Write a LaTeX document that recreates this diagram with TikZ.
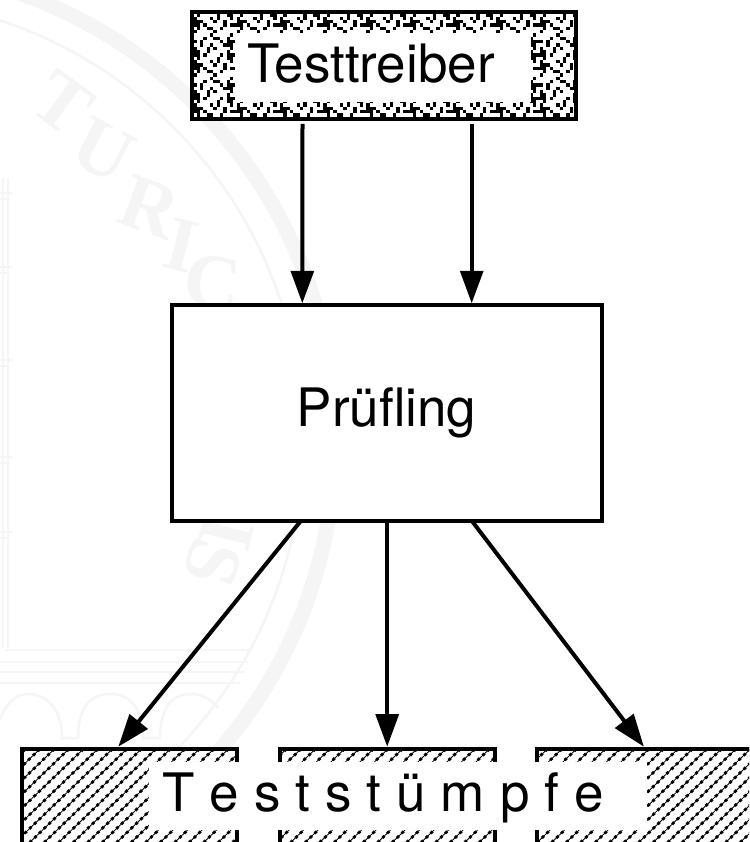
\documentclass[tikz,border=0pt]{standalone}
\usepackage{fontspec}
\setmainfont{TeX Gyre Heros}
\newfontfamily\sealfont{Liberation Serif}
\usetikzlibrary{arrows.meta,calc}
\definecolor{seal}{HTML}{F5F5F5}
\tikzset{
  frame/.style={draw=black,line width=4pt,fill=white,rectangle,inner sep=0pt,outer sep=0pt},
  label/.style={font=\fontsize{53}{60}\selectfont,inner sep=0pt,anchor=base},
  flow/.style={line width=4pt,-{Triangle[length=32.5pt,width=22.7pt]}},
  sealline/.style={draw=seal,line width=2.5pt},
  sealletter/.style={text=seal,font=\sealfont\bfseries\fontsize{78}{86}\selectfont,inner sep=0pt},
  hatch/.style={line width=2.8pt,dash pattern=on 3pt off 3.6pt},
  hatchthin/.style={line width=0.8pt}
}
\begin{document}
\begin{tikzpicture}[x=1pt,y=-1pt]
\useasboundingbox (0,0) rectangle (749,842);
\clip (0,0) rectangle (749,842);
\fill[white] (0,0) rectangle (749,842);
% faint seal in the background
\coordinate (sealc) at (-139,440);
\draw[seal,line width=15pt] (sealc) circle[radius=474pt];
\draw[sealline] (sealc) circle[radius=442pt];
\foreach \px/\py/\ch/\rot in {63/103/T/-36,103/150/U/-28,150/207/R/-20,181/245/I/-14,213/283/C/-7,227/533/I/-104,213/563/S/-108}{
  \node[sealletter,rotate=\rot] at (\px,\py) {\ch};
}
\draw[sealline] (3,178) -- (3,648) (8,178) -- (8,648);
\foreach \py in {193,267,360,457,532}{
  \draw[sealline] (0,\py) -- (12,\py) (0,\py+6) -- (9,\py+6);
}
\draw[sealline] (6,650) -- (252,650);
\draw[sealline] (0,662) -- (248,662);
\draw[sealline] (0,672) -- (245,672);
\draw[sealline] (0,683) -- (240,683);
\draw[sealline] (0,720) .. controls (6,703) and (16,694) .. (28,694)
  .. controls (46,694) and (62,708) .. (62,738) -- (78,738)
  .. controls (78,708) and (90,694) .. (110,694)
  .. controls (130,694) and (143,708) .. (143,738) -- (160,738)
  .. controls (160,708) and (172,694) .. (190,694)
  .. controls (203,694) and (212,700) .. (218,708);
% Testtreiber box
\node[frame,minimum width=383.5pt,minimum height=107.5pt] (drv) at (383.75,65.75) {};
\begin{scope}
  \clip (drv.north west) rectangle (drv.south east);
  \foreach \i in {0,...,115}{
    \foreach \j in {0,...,33}{
      \ifnum\numexpr(\i*\i+3*\i*\j+5*\j*\j)-13*(((\i*\i+3*\i*\j+5*\j*\j)-6)/13)\relax<5
        \fill[black] (190+3.33*\i,10+3.33*\j) rectangle ++(3.33,3.33);
      \fi
    }
  }
\end{scope}
\draw[black,line width=4pt] (drv.north west) rectangle (drv.south east);
\node[fill=white,inner sep=0pt,outer sep=0pt,minimum width=295.7pt,minimum height=69pt] (drvinner) at (383,67.5) {};
\node[label] (drvtext) at (371,82.7) {Testtreiber};
% Prüfling box
\node[frame,minimum width=430.3pt,minimum height=215.4pt] (dut) at (387.15,413) {};
\node[label] (duttext) at (386.5,426.7) {Prüfling};
% Teststümpfe boxes
\node[frame,minimum width=214.7pt,minimum height=120pt] (stuba) at (129.35,808.7) {};
\node[frame,minimum width=215pt,minimum height=120pt] (stubb) at (387.2,808.7) {};
\node[frame,minimum width=240pt,minimum height=120pt] (stubc) at (657,808.7) {};
\foreach \s in {stuba,stubb,stubc}{
  \begin{scope}
    \clip (\s.north west) rectangle (\s.south east);
    \foreach \k in {0,...,62}{
      \draw[hatch] (-115+14.5*\k,870) -- (15+14.5*\k,745);
      \draw[hatchthin] (-115+14.5*\k,870) -- (15+14.5*\k,745);
    }
  \end{scope}
  \draw[black,line width=4pt] (\s.south west) rectangle (\s.north east);
}
\fill[white] (149.3,761.7) rectangle (241,830);
\fill[white] (275,761.7) rectangle (499,830);
\fill[white] (533,761.7) rectangle (646.7,830);
\node[label,execute at begin node={\spaceskip=15pt\relax}] (stubtext) at (383,811) {T e s t s t ü m p f e};
% connectors
\draw[flow] ($(drv.south west)+(110.5,4.5)$) -- ($(dut.north west)+(130.3,-2)$);
\draw[flow] ($(drv.south west)+(279.7,4.5)$) -- ($(dut.north west)+(299.7,-2)$);
\draw[flow] ($(dut.south west)+(129,0)$) -- ($(stuba.north west)+(96.3,-2)$);
\draw[flow] (dut.south -| stubb.north) -- ($(stubb.north)+(0,-2)$);
\draw[flow] ($(dut.south west)+(299.7,0)$) -- ($(stubc.north west)+(106.9,-2)$);
\end{tikzpicture}
\end{document}
